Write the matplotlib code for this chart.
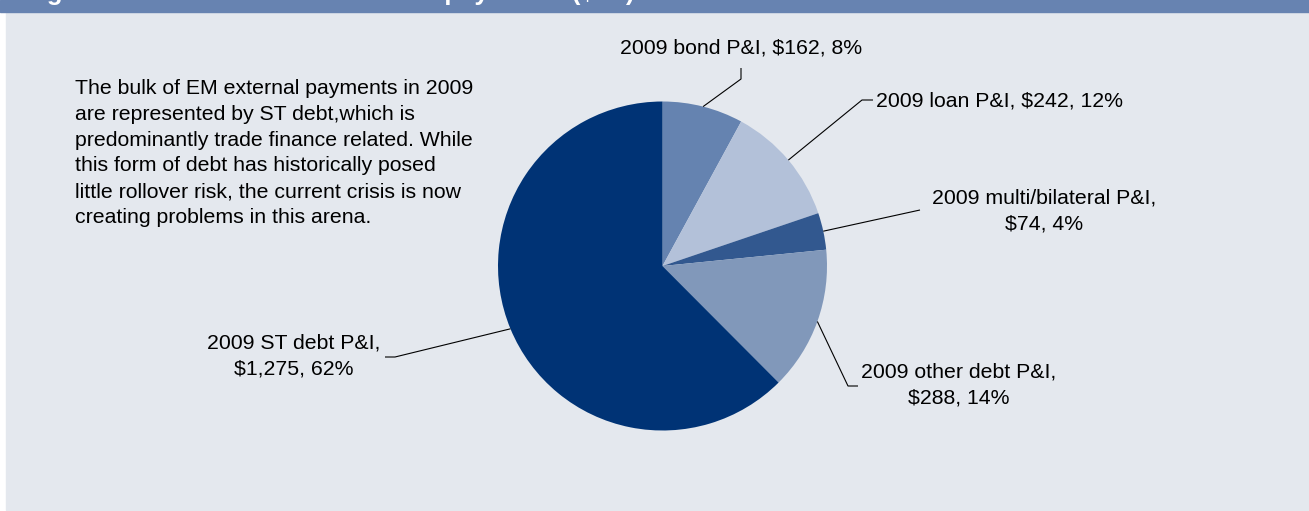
import numpy as np
import matplotlib.pyplot as plt
from matplotlib.patches import Rectangle

plt.rcParams['font.family'] = ['Liberation Sans', 'DejaVu Sans']

# 2009 EM external debt payments, US$ bn
categories = ['2009 bond P&I', '2009 loan P&I', '2009 multi/bilateral P&I',
              '2009 other debt P&I', '2009 ST debt P&I']
amounts = [162, 242, 74, 288, 1275]
shares = [8, 12, 4, 14, 62]
colors = ['#6583B0', '#B3C1D9', '#32588F', '#8198BA', '#003375']

title = 'Figure 2: Total EM external debt repayments ($bn)'
note = ('The bulk of EM external payments in 2009\n'
        'are represented by ST debt,which is\n'
        'predominantly trade finance related. While\n'
        'this form of debt has historically posed\n'
        'little rollover risk, the current crisis is now\n'
        'creating problems in this arena.')

W, H = 1309, 511
fig = plt.figure(figsize=(W / 100, H / 100), dpi=100)
ax = fig.add_axes([0, 0, 1, 1])
ax.set_xlim(0, W)
ax.set_ylim(0, H)
ax.axis('off')


def py(y):
    # pixel rows counted from the top
    return H - y


# panel + header strip
ax.add_patch(Rectangle((6, py(510)), W - 6, 510 - 11.5, color='#E4E8EE', zorder=0))
ax.add_patch(Rectangle((0, py(11.5)), W, 11.5, color='#6783B1', zorder=0))
ax.text(24, py(-0.5), title, color='white', fontsize=18.5, fontweight='bold',
        va='baseline', ha='left', zorder=1)

cx, cy, r = 662.5, py(266), 164.5
wedges, _ = ax.pie(amounts, colors=colors, startangle=90, counterclock=False,
                   center=(cx, cy), radius=r, frame=True,
                   wedgeprops=dict(linewidth=0))
ax.set_xlim(0, W)
ax.set_ylim(0, H)
ax.set_aspect('equal')


def edge_point(w):
    a = np.deg2rad((w.theta1 + w.theta2) / 2)
    return cx + r * np.cos(a), cy + r * np.sin(a)


labels = [f'{c}, ${a:,}, {s}%' for c, a, s in zip(categories, amounts, shares)]
fs = 15.3
lsp = 1.45

# leader elbows and label anchors
elbows = [
    [(741, 79), (741, 68)],
    [(862, 100), (873, 100)],
    [(920, 210)],
    [(848, 386), (858, 386)],
    [(395, 357), (385, 357)],
]
label_pos = [(741, 48, 'center', labels[0]),
             (876, 101, 'left', labels[1]),
             (1044, 211, 'center', f'{categories[2]},\n${amounts[2]}, {shares[2]}%'),
             (959, 385, 'center', f'{categories[3]},\n${amounts[3]}, {shares[3]}%'),
             (294, 356, 'center', f'{categories[4]},\n${amounts[4]:,}, {shares[4]}%')]

for w, pts, (lx, ly, ha, txt) in zip(wedges, elbows, label_pos):
    ex, ey = edge_point(w)
    xs = [ex] + [p[0] for p in pts]
    ys = [ey] + [py(p[1]) for p in pts]
    ax.plot(xs, ys, color='black', lw=0.8, solid_capstyle='butt')
    ax.text(lx, py(ly), txt, fontsize=fs, ha=ha, va='center',
            multialignment='center', linespacing=lsp)

ax.text(75, py(79), note, fontsize=fs, ha='left', va='top', linespacing=lsp)

fig.savefig('out.png', dpi=100)
